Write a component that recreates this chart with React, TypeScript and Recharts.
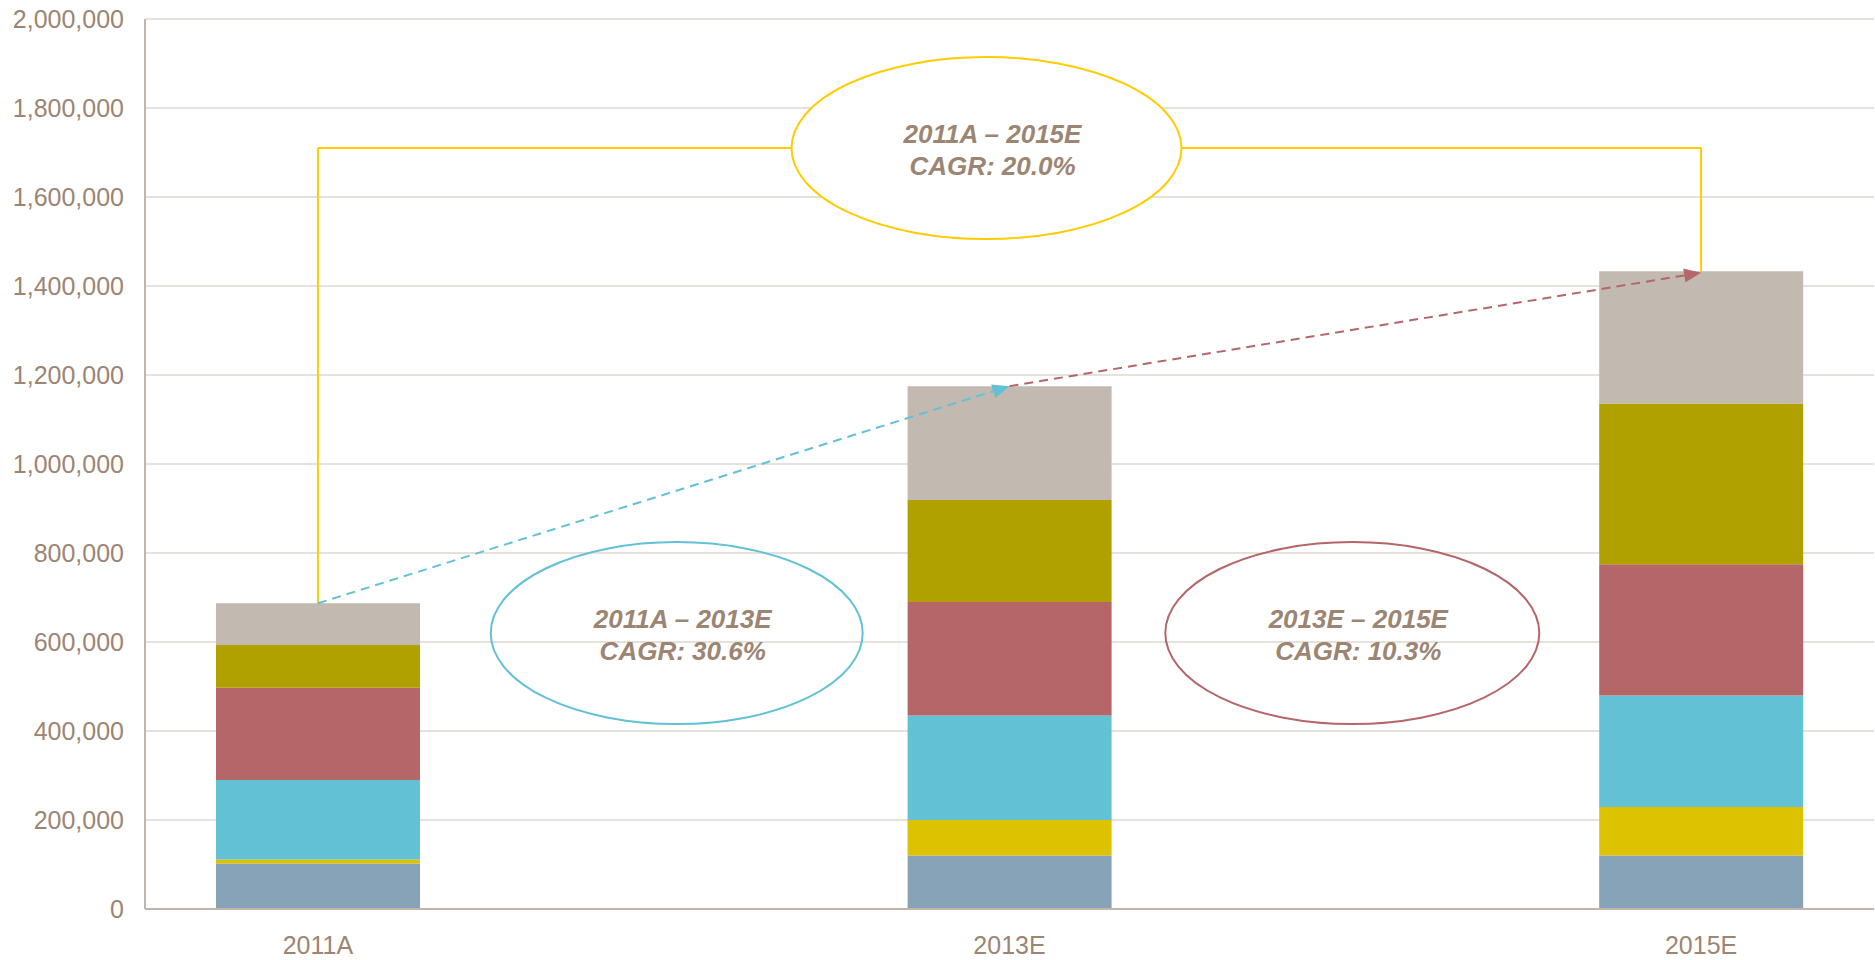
import React from 'react';
import {
  BarChart,
  Bar,
  XAxis,
  YAxis,
  CartesianGrid,
  ReferenceLine,
  ReferenceDot,
} from 'recharts';

document.body.style.margin = '0';

// categories (2012E / 2014E are empty slots with no bar)
const categories = ['2011A', '2012E', '2013E', '2014E', '2015E'];
const shownLabels = ['2011A', '', '2013E', '', '2015E'];

// stacked segments, bottom to top
const seg1 = [102000, null, 120000, null, 120000];
const seg2 = [9000, null, 80000, null, 109000];
const seg3 = [179000, null, 235000, null, 251000];
const seg4 = [207000, null, 255000, null, 295000];
const seg5 = [96000, null, 229000, null, 361000];
const seg6 = [94000, null, 256000, null, 297000];

const segColors = ['#86A3B7', '#DCC200', '#63C1D6', '#B46668', '#B0A000', '#C2B9B0'];

const yTicks = [0, 200000, 400000, 600000, 800000, 1000000, 1200000, 1400000, 1600000, 1800000, 2000000];

// CAGR callouts
const cagrRanges = ['2011A – 2013E', '2013E – 2015E', '2011A – 2015E'];
const cagrValues = ['30.6%', '10.3%', '20.0%'];
const bracketLevel = 1710000;
const calloutLevel = 620000;

const data = categories.map((c, i) => ({
  name: c,
  s1: seg1[i],
  s2: seg2[i],
  s3: seg3[i],
  s4: seg4[i],
  s5: seg5[i],
  s6: seg6[i],
}));

const total = (i: number) =>
  [seg1, seg2, seg3, seg4, seg5, seg6].reduce((sum, s) => sum + (s[i] || 0), 0);

const textColor = '#9C8573';
const font = '"Liberation Sans", Arial, sans-serif';

const dashedArrow = (color: string) => (props: any) => {
  const { x1, y1, x2, y2 } = props;
  if (x1 == null || y2 == null) return null;
  const ang = Math.atan2(y2 - y1, x2 - x1);
  const L = 17;
  const W = 7;
  const bx = x2 - L * Math.cos(ang);
  const by = y2 - L * Math.sin(ang);
  const px = -Math.sin(ang) * W;
  const py = Math.cos(ang) * W;
  return (
    <g>
      <line x1={x1} y1={y1} x2={bx} y2={by} stroke={color} strokeWidth={2} strokeDasharray="9 6" />
      <polygon points={`${x2},${y2} ${bx + px},${by + py} ${bx - px},${by - py}`} fill={color} />
    </g>
  );
};

const plainLine = (props: any) => {
  const { x1, y1, x2, y2 } = props;
  if (x1 == null || y2 == null) return null;
  return <line x1={x1} y1={y1} x2={x2} y2={y2} stroke="#FFCC00" strokeWidth={2} />;
};

const callout = (idx: number, stroke: string, fill: string, rx: number, dx: number) => (props: any) => {
  const { cx, cy } = props;
  if (cx == null || cy == null) return null;
  const x = cx + dx;
  const textProps = {
    textAnchor: 'middle' as const,
    fill: textColor,
    fontFamily: font,
    fontSize: 26,
    fontWeight: 'bold',
    fontStyle: 'italic',
  };
  return (
    <g>
      <ellipse cx={x} cy={cy} rx={rx} ry={91} fill={fill} stroke={stroke} strokeWidth={2} />
      <text x={x + 6} y={cy - 5} {...textProps}>
        {cagrRanges[idx]}
      </text>
      <text x={x + 6} y={cy + 27} {...textProps}>
        {`CAGR: ${cagrValues[idx]}`}
      </text>
    </g>
  );
};

export default function App() {
  const keys = ['s1', 's2', 's3', 's4', 's5', 's6'];
  return (
    <div style={{ width: 1875, height: 960, background: '#fff' }}>
      <BarChart
        width={1875}
        height={960}
        data={data}
        margin={{ top: 19, right: 1, bottom: 0, left: 0 }}
        barCategoryGap={0}
      >
        <CartesianGrid vertical={false} stroke="#CBC3BA" strokeWidth={1} />
        <XAxis
          dataKey="name"
          height={51}
          interval={0}
          tickLine={false}
          tickMargin={21}
          axisLine={{ stroke: '#C2B6AA', strokeWidth: 2 }}
          tickFormatter={(_v: any, i: number) => shownLabels[i]}
          tick={{ fill: textColor, fontSize: 25, fontFamily: font }}
        />
        <YAxis
          width={145}
          domain={[0, 2000000]}
          ticks={yTicks}
          tickLine={false}
          tickMargin={15}
          axisLine={{ stroke: '#C2B6AA', strokeWidth: 2 }}
          tickFormatter={(v: number) => v.toLocaleString('en-US')}
          tick={{ fill: textColor, fontSize: 25, fontFamily: font }}
        />
        {keys.map((k, i) => (
          <Bar key={k} dataKey={k} stackId="a" fill={segColors[i]} barSize={204} isAnimationActive={false} />
        ))}
        <ReferenceLine
          segment={[{ x: categories[0], y: total(0) }, { x: categories[0], y: bracketLevel }]}
          shape={plainLine}
        />
        <ReferenceLine
          segment={[{ x: categories[0], y: bracketLevel }, { x: categories[4], y: bracketLevel }]}
          shape={plainLine}
        />
        <ReferenceLine
          segment={[{ x: categories[4], y: bracketLevel }, { x: categories[4], y: total(4) }]}
          shape={plainLine}
        />
        <ReferenceLine
          segment={[{ x: categories[0], y: total(0) }, { x: categories[2], y: total(2) }]}
          shape={dashedArrow('#63C1D6')}
        />
        <ReferenceLine
          segment={[{ x: categories[2], y: total(2) }, { x: categories[4], y: total(4) - 3000 }]}
          shape={dashedArrow('#B46668')}
        />
        <ReferenceDot x={categories[1]} y={calloutLevel} shape={callout(0, '#63C1D6', 'none', 186, 13)} />
        <ReferenceDot x={categories[3]} y={calloutLevel} shape={callout(1, '#B46668', 'none', 187, -3)} />
        <ReferenceDot x={categories[2]} y={bracketLevel} shape={callout(2, '#FFCC00', '#fff', 195, -23)} />
      </BarChart>
    </div>
  );
}
